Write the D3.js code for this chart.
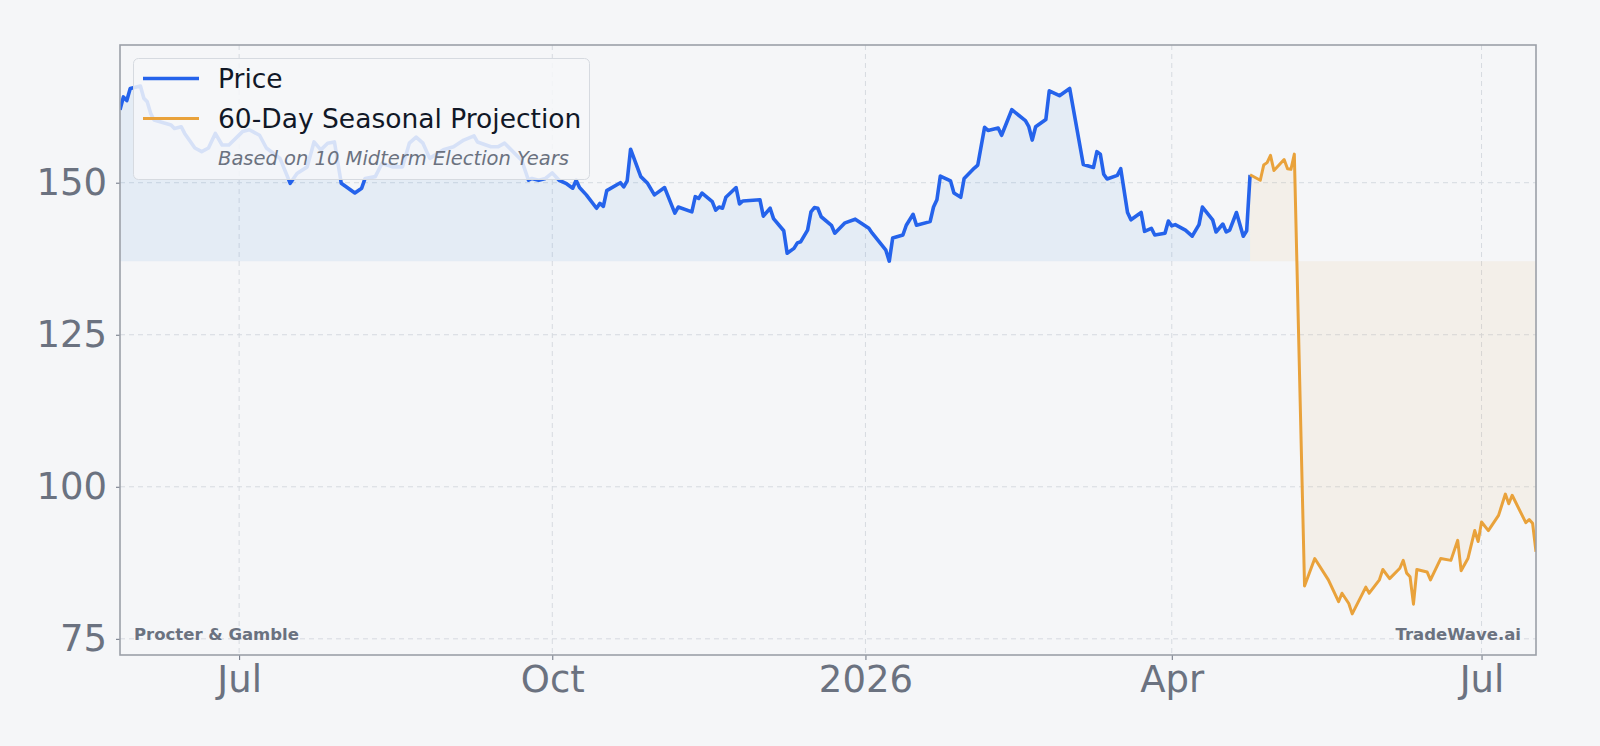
<!DOCTYPE html>
<html>
<head>
<meta charset="utf-8">
<script src="https://cdn.jsdelivr.net/npm/d3@7"></script>
<style>
  body { margin: 0; background: #f5f6f8; }
  svg { display: block; font-family: 'DejaVu Sans', sans-serif; }
</style>
</head>
<body>
<svg width="1600" height="746"></svg>
<script>
const priceDates = [
  '2025-05-27', '2025-05-28', '2025-05-29', '2025-05-30', '2025-06-02', '2025-06-03', '2025-06-04', '2025-06-05',
  '2025-06-06', '2025-06-09', '2025-06-11', '2025-06-12', '2025-06-14', '2025-06-15', '2025-06-18', '2025-06-20',
  '2025-06-22', '2025-06-24', '2025-06-26', '2025-06-28', '2025-07-02', '2025-07-04', '2025-07-07', '2025-07-09',
  '2025-07-13', '2025-07-16', '2025-07-18', '2025-07-21', '2025-07-23', '2025-07-25', '2025-07-27', '2025-07-29',
  '2025-07-31', '2025-08-04', '2025-08-06', '2025-08-07', '2025-08-10', '2025-08-12', '2025-08-15', '2025-08-18',
  '2025-08-20', '2025-08-22', '2025-08-24', '2025-08-26', '2025-08-30', '2025-09-02', '2025-09-05', '2025-09-08',
  '2025-09-09', '2025-09-13', '2025-09-15', '2025-09-17', '2025-09-20', '2025-09-22', '2025-09-24', '2025-09-25',
  '2025-09-27', '2025-09-29', '2025-10-01', '2025-10-03', '2025-10-05', '2025-10-07', '2025-10-08', '2025-10-09',
  '2025-10-11', '2025-10-14', '2025-10-15', '2025-10-16', '2025-10-17', '2025-10-21', '2025-10-22', '2025-10-23',
  '2025-10-24', '2025-10-27', '2025-10-29', '2025-10-31', '2025-11-03', '2025-11-06', '2025-11-07', '2025-11-11',
  '2025-11-12', '2025-11-13', '2025-11-14', '2025-11-17', '2025-11-18', '2025-11-19', '2025-11-20', '2025-11-21',
  '2025-11-24', '2025-11-25', '2025-11-26', '2025-12-01', '2025-12-02', '2025-12-04', '2025-12-05', '2025-12-08',
  '2025-12-09', '2025-12-11', '2025-12-12', '2025-12-13', '2025-12-15', '2025-12-16', '2025-12-17', '2025-12-18',
  '2025-12-19', '2025-12-22', '2025-12-23', '2025-12-26', '2025-12-29', '2026-01-02', '2026-01-03', '2026-01-07',
  '2026-01-08', '2026-01-09', '2026-01-12', '2026-01-13', '2026-01-15', '2026-01-16', '2026-01-20', '2026-01-21',
  '2026-01-22', '2026-01-23', '2026-01-26', '2026-01-27', '2026-01-29', '2026-01-30', '2026-02-02', '2026-02-03',
  '2026-02-05', '2026-02-06', '2026-02-09', '2026-02-10', '2026-02-13', '2026-02-17', '2026-02-18', '2026-02-19',
  '2026-02-20', '2026-02-23', '2026-02-24', '2026-02-27', '2026-03-02', '2026-03-06', '2026-03-09', '2026-03-10',
  '2026-03-11', '2026-03-12', '2026-03-13', '2026-03-16', '2026-03-17', '2026-03-19', '2026-03-20', '2026-03-23',
  '2026-03-24', '2026-03-26', '2026-03-27', '2026-03-30', '2026-03-31', '2026-04-01', '2026-04-02', '2026-04-05',
  '2026-04-07', '2026-04-09', '2026-04-10', '2026-04-13', '2026-04-14', '2026-04-16', '2026-04-17', '2026-04-18',
  '2026-04-20', '2026-04-22', '2026-04-23', '2026-04-24',
];
const priceValues = [
  162.0, 164.1, 163.5, 165.5, 165.9, 163.9, 163.3, 161.4,
  160.3, 159.8, 159.5, 158.9, 159.2, 158.1, 155.7, 155.1,
  155.7, 158.1, 156.2, 156.2, 158.4, 158.7, 157.8, 155.7,
  154.0, 149.9, 151.5, 152.6, 156.7, 155.4, 156.5, 156.7,
  149.9, 148.3, 149.1, 150.7, 151.0, 153.2, 152.6, 152.6,
  156.5, 157.5, 156.5, 154.0, 155.4, 155.9, 157.0, 157.7,
  156.7, 155.9, 155.9, 156.5, 154.8, 153.7, 150.4, 150.7,
  150.4, 150.7, 151.6, 150.4, 149.9, 149.1, 150.4, 149.2,
  148.0, 145.8, 146.6, 146.1, 148.7, 150.0, 149.3, 150.3,
  155.5, 151.0, 149.9, 148.0, 149.2, 145.0, 146.0, 145.2,
  147.7, 147.4, 148.3, 146.9, 145.5, 146.0, 145.8, 147.6,
  149.2, 146.5, 147.0, 147.2, 144.5, 145.8, 144.1, 142.1,
  138.4, 139.2, 140.1, 140.3, 142.2, 145.2, 145.9, 145.8,
  144.4, 143.0, 141.7, 143.4, 144.0, 142.5, 141.7, 138.9,
  137.1, 140.9, 141.4, 143.0, 144.8, 143.0, 143.6, 146.0,
  147.2, 151.1, 150.3, 148.3, 147.6, 150.7, 152.4, 152.9,
  159.1, 158.6, 159.0, 157.8, 162.0, 160.2, 159.2, 157.0,
  159.2, 160.4, 165.1, 164.3, 165.5, 153.0, 152.5, 155.1,
  154.7, 151.4, 150.6, 151.2, 152.3, 145.1, 143.9, 145.1,
  142.0, 142.5, 141.4, 141.7, 143.7, 142.9, 143.1, 142.2,
  141.2, 143.1, 146.0, 143.9, 141.9, 143.2, 141.9, 142.2,
  145.1, 141.2, 142.1, 151.3,
];

const projectionDates = [
  '2026-04-24', '2026-04-27', '2026-04-28', '2026-04-29', '2026-04-30', '2026-05-01', '2026-05-04', '2026-05-05',
  '2026-05-06', '2026-05-07', '2026-05-10', '2026-05-13', '2026-05-17', '2026-05-20', '2026-05-21', '2026-05-23',
  '2026-05-24', '2026-05-28', '2026-05-29', '2026-06-01', '2026-06-02', '2026-06-04', '2026-06-07', '2026-06-08',
  '2026-06-09', '2026-06-10', '2026-06-11', '2026-06-12', '2026-06-15', '2026-06-16', '2026-06-19', '2026-06-22',
  '2026-06-24', '2026-06-25', '2026-06-27', '2026-06-29', '2026-06-30', '2026-07-01', '2026-07-03', '2026-07-06',
  '2026-07-08', '2026-07-09', '2026-07-10', '2026-07-14', '2026-07-15', '2026-07-16', '2026-07-17',
];
const projectionValues = [
  151.3, 150.4, 152.9, 153.3, 154.5, 152.0, 153.8, 152.3,
  152.2, 154.7, 83.7, 88.2, 84.7, 81.1, 82.5, 80.8,
  79.1, 83.5, 82.5, 84.7, 86.4, 84.9, 86.6, 87.9,
  85.8, 85.2, 80.7, 86.4, 86.0, 84.7, 88.2, 87.9,
  91.2, 86.2, 88.2, 92.8, 91.0, 94.2, 92.8, 95.3,
  98.8, 97.2, 98.6, 94.1, 94.6, 94.0, 89.3,
];

const yTicks = [75, 100, 125, 150];
const xTickDates = ['2025-07-01', '2025-10-01', '2026-01-01', '2026-04-01', '2026-07-01'];
const xTickLabels = ['Jul', 'Oct', '2026', 'Apr', 'Jul'];

const legendLabels = ['Price', '60-Day Seasonal Projection'];
const legendNote = 'Based on 10 Midterm Election Years';
const tickerName = 'Procter & Gamble';
const brandName = 'TradeWave.ai';

const BLUE = '#2563eb';
const ORANGE = '#e9a23b';
const PLOT = { left: 120, right: 1536, top: 45, bottom: 655 };

const parse = d3.timeParse('%Y-%m-%d');
const price = priceDates.map((d, i) => ({ date: parse(d), value: priceValues[i] }));
const projection = projectionDates.map((d, i) => ({ date: parse(d), value: projectionValues[i] }));
const baseline = d3.min(priceValues);

const x = d3
  .scaleTime()
  .domain([price[0].date, projection[projection.length - 1].date])
  .range([PLOT.left, PLOT.right]);
const y = d3.scaleLinear().domain([72.34, 172.64]).range([PLOT.bottom, PLOT.top]);

const svg = d3.select('svg');

svg
  .append('rect')
  .attr('width', 1600)
  .attr('height', 746)
  .attr('fill', '#f5f6f8');

svg
  .append('clipPath')
  .attr('id', 'plot-clip')
  .append('rect')
  .attr('x', PLOT.left)
  .attr('y', PLOT.top)
  .attr('width', PLOT.right - PLOT.left)
  .attr('height', PLOT.bottom - PLOT.top);

// grid
const grid = svg.append('g').attr('stroke', '#d6dae0').attr('stroke-width', 1).attr('stroke-dasharray', '5,4');
grid
  .selectAll('.hgrid')
  .data(yTicks)
  .enter()
  .append('line')
  .attr('x1', PLOT.left)
  .attr('x2', PLOT.right)
  .attr('y1', (d) => y(d))
  .attr('y2', (d) => y(d));
grid
  .selectAll('.vgrid')
  .data(xTickDates)
  .enter()
  .append('line')
  .attr('x1', (d) => x(parse(d)))
  .attr('x2', (d) => x(parse(d)))
  .attr('y1', PLOT.top)
  .attr('y2', PLOT.bottom);

const plot = svg.append('g').attr('clip-path', 'url(#plot-clip)');

const area = d3
  .area()
  .x((d) => x(d.date))
  .y0(y(baseline))
  .y1((d) => y(d.value));
const line = d3
  .line()
  .x((d) => x(d.date))
  .y((d) => y(d.value));

plot.append('path').datum(price).attr('d', area).attr('fill', '#4a90e2').attr('fill-opacity', 0.1);
plot.append('path').datum(projection).attr('d', area).attr('fill', ORANGE).attr('fill-opacity', 0.08);

plot
  .append('path')
  .datum(price)
  .attr('d', line)
  .attr('fill', 'none')
  .attr('stroke', BLUE)
  .attr('stroke-width', 3.6)
  .attr('stroke-linejoin', 'round');
plot
  .append('path')
  .datum(projection)
  .attr('d', line)
  .attr('fill', 'none')
  .attr('stroke', ORANGE)
  .attr('stroke-width', 3)
  .attr('stroke-linejoin', 'round');

// axes
const yAxis = svg
  .append('g')
  .attr('transform', `translate(${PLOT.left},0)`)
  .call(d3.axisLeft(y).tickValues(yTicks).tickSize(4).tickPadding(9));
const xAxis = svg
  .append('g')
  .attr('transform', `translate(0,${PLOT.bottom})`)
  .call(
    d3
      .axisBottom(x)
      .tickValues(xTickDates.map(parse))
      .tickFormat((d, i) => xTickLabels[i])
      .tickSize(5)
      .tickPadding(6)
  );
[yAxis, xAxis].forEach((ax) => {
  ax.select('.domain').remove();
  ax.selectAll('line').attr('stroke', '#6b7280');
  ax.selectAll('text').attr('fill', '#6b7280').attr('font-size', 37).attr('font-family', 'DejaVu Sans');
});

svg
  .append('rect')
  .attr('x', PLOT.left)
  .attr('y', PLOT.top)
  .attr('width', PLOT.right - PLOT.left)
  .attr('height', PLOT.bottom - PLOT.top)
  .attr('fill', 'none')
  .attr('stroke', '#9ca0a8')
  .attr('stroke-width', 1.6);

// legend
const legend = svg.append('g');
legend
  .append('rect')
  .attr('x', 133.5)
  .attr('y', 58.5)
  .attr('width', 456)
  .attr('height', 121)
  .attr('rx', 5)
  .attr('fill', '#f6f7f9')
  .attr('fill-opacity', 0.85)
  .attr('stroke', '#d6dae0');

legend
  .selectAll('.item')
  .data(legendLabels)
  .enter()
  .append('line')
  .attr('x1', 143)
  .attr('x2', 199)
  .attr('y1', (d, i) => 78.5 + i * 40)
  .attr('y2', (d, i) => 78.5 + i * 40)
  .attr('stroke', (d, i) => (i === 0 ? BLUE : ORANGE))
  .attr('stroke-width', (d, i) => (i === 0 ? 3.6 : 3));
legend
  .selectAll('.label')
  .data(legendLabels)
  .enter()
  .append('text')
  .text((d) => d)
  .attr('x', 218)
  .attr('y', (d, i) => 88 + i * 40)
  .attr('font-size', 26.5)
  .attr('fill', '#111827');
legend
  .append('text')
  .text(legendNote)
  .attr('x', 218)
  .attr('y', 165)
  .attr('font-size', 19.5)
  .attr('font-style', 'italic')
  .attr('fill', '#6b7280');

svg
  .append('text')
  .text(tickerName)
  .attr('x', 134)
  .attr('y', 640)
  .attr('font-size', 16.5)
  .attr('font-weight', 'bold')
  .attr('fill', '#6b7280');
svg
  .append('text')
  .text(brandName)
  .attr('x', 1521)
  .attr('y', 640)
  .attr('text-anchor', 'end')
  .attr('font-size', 16.5)
  .attr('font-weight', 'bold')
  .attr('fill', '#6b7280');
</script>
</body>
</html>
